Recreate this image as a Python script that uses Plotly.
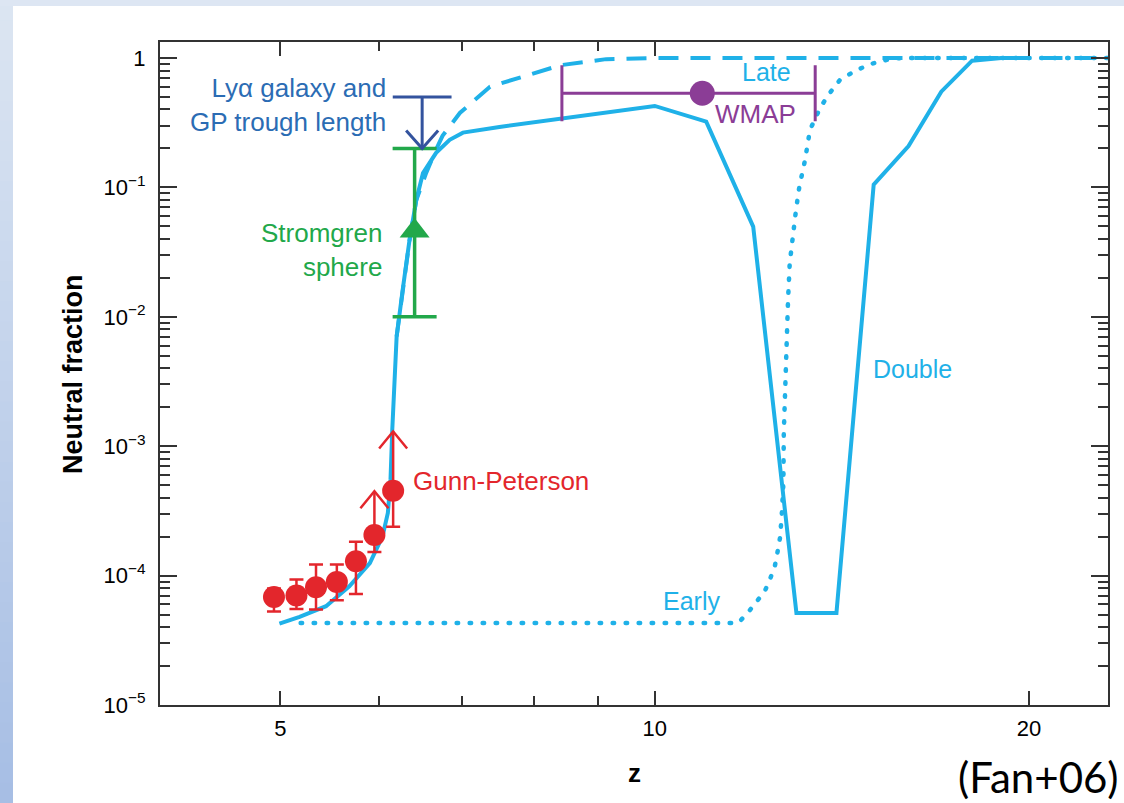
import math
import plotly.graph_objects as go

# ---------------- data ----------------
# Gunn-Peterson measurements (redshift, neutral fraction, errors)
gp_z = [4.94, 5.15, 5.34, 5.55, 5.75, 5.95, 6.16]
gp_f = [6.83e-5, 7.01e-5, 8.12e-5, 8.94e-5, 1.29e-4, 2.06e-4, 4.53e-4]
gp_hi = [7.94e-5, 9.31e-5, 1.22e-4, 1.22e-4, 1.83e-4, None, None]
gp_lo = [5.27e-5, 5.53e-5, 5.46e-5, 6.45e-5, 7.22e-5, 1.52e-4, 2.38e-4]
# the two highest-z points are lower limits
gp_limit_idx = [5, 6]
gp_limit_tip = [4.48e-4, 1.30e-3]

# Stromgren sphere constraint
sg_z = [6.41]
sg_f = [0.046]
sg_hi = [0.20]
sg_lo = [0.010]

# Lya galaxy / GP trough length upper limit
lya_z = [6.50]
lya_from = [0.50]
lya_tip = [0.20]

# WMAP reionization redshift
wmap_z = [10.92]
wmap_f = [0.534]
wmap_zlo = [8.42]
wmap_zhi = [13.46]

# Reionization models
double_z = [4.99, 5.18, 5.44, 5.68, 5.90, 6.04, 6.10, 6.13, 6.15, 6.18, 6.20, 6.27,
            6.35, 6.43, 6.51, 6.67, 6.84, 7.01, 7.50, 10.0, 11.0, 12.0, 13.0, 14.0,
            15.0, 16.0, 17.0, 18.0, 19.0, 20.0]
double_f = [4.26e-5, 4.80e-5, 5.80e-5, 8.27e-5, 1.25e-4, 2.01e-4, 3.05e-4, 5.51e-4,
            1.34e-3, 3.26e-3, 7.05e-3, 0.0162, 0.0393, 0.080, 0.129, 0.185, 0.233,
            0.265, 0.293, 0.426, 0.322, 0.0498, 5.15e-5, 5.15e-5, 0.105, 0.209,
            0.549, 0.953, 1.0, 1.0]

late_z = [6.20, 6.27, 6.35, 6.43, 6.55, 6.66, 6.75, 6.97, 7.37, 8.40, 9.14, 10.0, 23.15]
late_f = [7.05e-3, 0.0162, 0.039, 0.080, 0.13, 0.19, 0.25, 0.376, 0.60, 0.88, 0.98,
          1.0, 1.0]

early_z = [5.19, 11.67, 11.89, 12.07, 12.26, 12.39, 12.49, 12.55, 12.61, 12.65, 12.69,
           12.70, 12.73, 12.77, 12.80, 12.84, 12.92, 12.99, 13.07, 13.21, 13.33, 13.58,
           13.79, 14.09, 14.53, 14.99, 15.55, 16.24, 23.15]
early_f = [4.3e-5, 4.3e-5, 5.21e-5, 6.33e-5, 7.57e-5, 9.6e-5, 1.18e-4, 1.5e-4, 1.95e-4,
           2.87e-4, 5.2e-4, 1.27e-3, 2.9e-3, 6.6e-3, 0.0135, 0.026, 0.047, 0.067,
           0.101, 0.163, 0.278, 0.409, 0.518, 0.676, 0.808, 0.91, 0.995, 1.0, 1.0]

x_tick_vals = [5, 10, 20]
x_tick_text = ["5", "10", "20"]
x_minor_vals = [6, 7, 8, 9]
y_tick_vals = [1e-5, 1e-4, 1e-3, 1e-2, 1e-1, 1]
y_tick_text = ["10<sup>\u22125</sup>", "10<sup>\u22124</sup>", "10<sup>\u22123</sup>",
               "10<sup>\u22122</sup>", "10<sup>\u22121</sup>", "1"]

# ---------------- layout geometry ----------------
W, H = 1124, 803
ML, MR, MT, MB = 160, 16, 42, 98
PW, PH = W - ML - MR, H - MT - MB
X_RANGE = [math.log10(4.0), math.log10(23.15)]
Y_RANGE = [-5.0, 0.1236]
X_DEC_PER_PX = (X_RANGE[1] - X_RANGE[0]) / PW
Y_DEC_PER_PX = (Y_RANGE[1] - Y_RANGE[0]) / PH


def paper_x(px):
    return (px - ML) / PW


def paper_y(py):
    return (H - MB - py) / PH


BLUE = "#1fb1e8"
RED = "#e3262c"
GREEN = "#22a84a"
NAVY = "#33539e"
LYA_TEXT = "#2b6cb4"
PURPLE = "#8b3d96"
FONT = "Liberation Sans, Arial, Helvetica, sans-serif"


def chevrons(zs, tips, half_w, height, up=True):
    """Open V arrow heads at each tip (pixel sizes converted to log decades)."""
    dx = half_w * X_DEC_PER_PX
    dy = height * Y_DEC_PER_PX * (1 if up else -1)
    xs, ys = [], []
    for z, t in zip(zs, tips):
        xs += [z * 10 ** (-dx), z, z * 10 ** dx, None]
        ys += [t * 10 ** (-dy), t, t * 10 ** (-dy), None]
    return xs, ys


def stems(zs, starts, ends):
    xs, ys = [], []
    for z, a, b in zip(zs, starts, ends):
        xs += [z, z, None]
        ys += [a, b, None]
    return xs, ys


fig = go.Figure()

# model curves
fig.add_trace(go.Scatter(x=early_z, y=early_f, mode="lines", name="Early",
                         line=dict(color=BLUE, width=4.5, dash="1.5px,11.5px")))
fig.add_trace(go.Scatter(x=late_z, y=late_f, mode="lines", name="Late",
                         line=dict(color=BLUE, width=4, dash="20px,12px")))
fig.add_trace(go.Scatter(x=double_z, y=double_f, mode="lines", name="Double",
                         line=dict(color=BLUE, width=4)))

# WMAP
fig.add_trace(go.Scatter(
    x=wmap_z, y=wmap_f, mode="markers", name="WMAP",
    marker=dict(color=PURPLE, size=25, symbol="circle"),
    error_x=dict(type="data", symmetric=False,
                 array=[h - z for h, z in zip(wmap_zhi, wmap_z)],
                 arrayminus=[z - l for l, z in zip(wmap_zlo, wmap_z)],
                 color=PURPLE, thickness=3, width=28)))

# Stromgren sphere
fig.add_trace(go.Scatter(
    x=sg_z, y=sg_f, mode="markers", name="Stromgren",
    marker=dict(color=GREEN, size=26, symbol="triangle-up"),
    error_y=dict(type="data", symmetric=False,
                 array=[h - f for h, f in zip(sg_hi, sg_f)],
                 arrayminus=[f - l for l, f in zip(sg_lo, sg_f)],
                 color=GREEN, thickness=3.5, width=22)))

# Lya galaxy upper limit: cap, stem and downward arrow head
sx, sy = stems(lya_z, lya_from, lya_tip)
fig.add_trace(go.Scatter(x=sx, y=sy, mode="lines", line=dict(color=NAVY, width=3),
                         hoverinfo="skip"))
fig.add_trace(go.Scatter(x=lya_z, y=lya_from, mode="markers",
                         marker=dict(symbol="line-ew", size=42,
                                     line=dict(color=NAVY, width=3)),
                         hoverinfo="skip"))
cx, cy = chevrons(lya_z, lya_tip, 16, 18, up=False)
fig.add_trace(go.Scatter(x=cx, y=cy, mode="lines", line=dict(color=NAVY, width=3),
                         hoverinfo="skip"))

# Gunn-Peterson lower-limit arrows
lim_z = [gp_z[i] for i in gp_limit_idx]
lim_f = [gp_f[i] for i in gp_limit_idx]
sx, sy = stems(lim_z, lim_f, gp_limit_tip)
fig.add_trace(go.Scatter(x=sx, y=sy, mode="lines", line=dict(color=RED, width=2.5),
                         hoverinfo="skip"))
cx, cy = chevrons(lim_z, gp_limit_tip, 14, 17, up=True)
fig.add_trace(go.Scatter(x=cx, y=cy, mode="lines", line=dict(color=RED, width=2.5),
                         hoverinfo="skip"))

# Gunn-Peterson points
fig.add_trace(go.Scatter(
    x=gp_z, y=gp_f, mode="markers", name="Gunn-Peterson",
    marker=dict(color=RED, size=22, symbol="circle"),
    error_y=dict(type="data", symmetric=False,
                 array=[(h - f) if h is not None else 0 for h, f in zip(gp_hi, gp_f)],
                 arrayminus=[f - l for l, f in zip(gp_lo, gp_f)],
                 color=RED, thickness=2.5, width=7)))


def label(text, z, f, color, xanchor="center", align="center", size=26):
    fig.add_annotation(x=math.log10(z), y=math.log10(f), xref="x", yref="y",
                       text=text, showarrow=False, xanchor=xanchor, yanchor="middle",
                       align=align, font=dict(family=FONT, size=size, color=color))


label("Ly\u03b1 galaxy and<br>GP trough length", 6.10, 0.437, LYA_TEXT,
      xanchor="right", align="right")
label("Stromgren<br>sphere", 6.06, 0.033, GREEN, xanchor="right", align="right")
label("Gunn-Peterson", 6.37, 5.4e-4, RED, xanchor="left", align="left")
label("Late", 12.29, 0.78, BLUE, size=25)
label("WMAP", 12.06, 0.369, PURPLE)
label("Early", 10.71, 6.35e-5, BLUE, size=25)
label("Double", 14.92, 3.93e-3, BLUE, xanchor="left", align="left", size=25)

# axis titles and citation
fig.add_annotation(x=paper_x(73), y=paper_y(374), xref="paper", yref="paper",
                   xanchor="center", yanchor="middle",
                   text="<b>Neutral fraction</b>", textangle=-90, showarrow=False,
                   font=dict(family=FONT, size=27, color="black"))
fig.add_annotation(x=paper_x(634), y=paper_y(773), xref="paper", yref="paper",
                   xanchor="center", yanchor="middle",
                   text="<b>z</b>", showarrow=False,
                   font=dict(family=FONT, size=26, color="black"))
fig.add_annotation(x=paper_x(1121), y=paper_y(777), xref="paper", yref="paper",
                   text="(Fan+06)", showarrow=False, xanchor="right", yanchor="middle",
                   font=dict(family="Lato, Open Sans, sans-serif", size=42, color="black"))

# slide background: light blue band on the left and top
shapes = []
n_bands = 40
top_c = (220, 229, 242)
bot_c = (166, 190, 228)
for i in range(n_bands):
    t = (i + 0.5) / n_bands
    c = tuple(round(a + (b - a) * t) for a, b in zip(top_c, bot_c))
    y0 = H * i / n_bands
    y1 = H * (i + 1) / n_bands + 1
    shapes.append(dict(type="rect", xref="paper", yref="paper", layer="below",
                       x0=paper_x(0), x1=paper_x(13), y0=paper_y(y1), y1=paper_y(y0),
                       line=dict(width=0), fillcolor="rgb(%d,%d,%d)" % c))
shapes.append(dict(type="rect", xref="paper", yref="paper", layer="below",
                   x0=paper_x(0), x1=paper_x(W), y0=paper_y(6), y1=paper_y(0),
                   line=dict(width=0), fillcolor="rgb(221,230,243)"))

axis_common = dict(
    showline=True, linecolor="#333333", linewidth=2, mirror="ticks",
    ticks="inside", tickcolor="#333333", tickwidth=1.6, showgrid=False, zeroline=False,
    tickfont=dict(family=FONT, size=22, color="black"),
)

y_minor = [m * 10 ** e for e in range(-5, 1) for m in range(2, 10)]

fig.update_layout(
    width=W, height=H, autosize=False,
    margin=dict(l=ML, r=MR, t=MT, b=MB),
    paper_bgcolor="white", plot_bgcolor="white",
    showlegend=False, shapes=shapes,
    xaxis=dict(type="log", range=X_RANGE, tickvals=x_tick_vals, ticktext=x_tick_text,
               ticklen=14, ticklabelstandoff=3,
               minor=dict(tickvals=x_minor_vals, ticks="inside", ticklen=9,
                          tickcolor="#333333", tickwidth=1.6),
               **axis_common),
    yaxis=dict(type="log", range=Y_RANGE, tickvals=y_tick_vals, ticktext=y_tick_text,
               ticklen=17, ticklabelstandoff=8,
               minor=dict(tickvals=y_minor, ticks="inside", ticklen=10,
                          tickcolor="#333333", tickwidth=1.6),
               **axis_common),
)

post = """
var gd = document.getElementById('{plot_id}');
gd.querySelectorAll('.scatterlayer .trace:first-child path.js-line').forEach(function(p){
  p.style.strokeLinecap = 'round';
});
"""

fig.write_html("out.html", post_script=post)
